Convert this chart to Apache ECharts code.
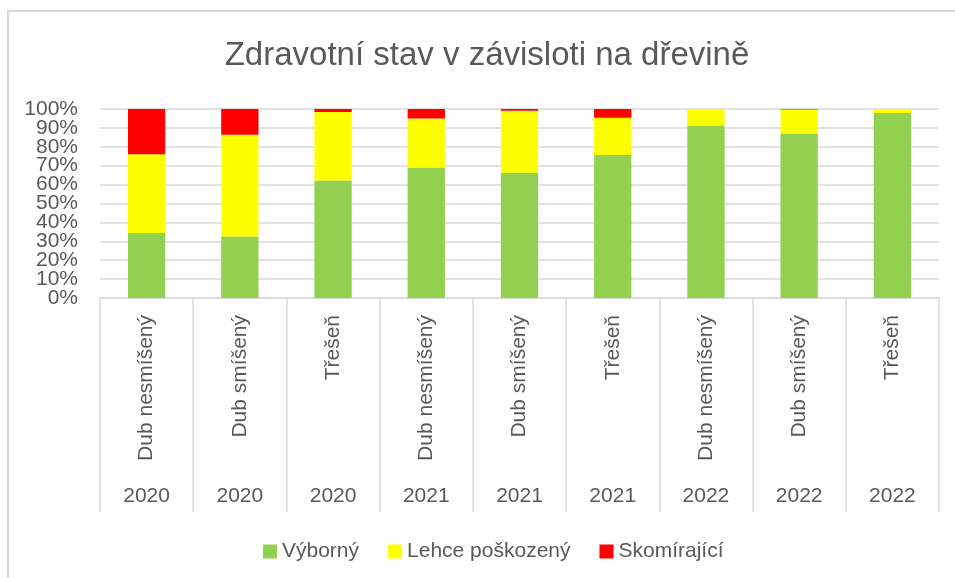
<!DOCTYPE html>
<html>
<head>
<meta charset="utf-8">
<script src="https://cdn.jsdelivr.net/npm/echarts@6/dist/echarts.min.js"></script>
<style>
html,body{margin:0;padding:0;background:#fff;}
#chart{width:955px;height:578px;}
</style>
</head>
<body>
<div id="chart"></div>
<script>
const categories = ['Dub nesmíšený','Dub smíšený','Třešeň','Dub nesmíšený','Dub smíšený','Třešeň','Dub nesmíšený','Dub smíšený','Třešeň'];
const years = ['2020','2020','2020','2021','2021','2021','2022','2022','2022'];
const vyborny = [34.4, 32.6, 62.2, 69.1, 66.3, 75.7, 91.3, 87.1, 97.9];
const lehce   = [41.6, 53.8, 36.2, 25.9, 32.8, 19.7, 8.7, 12.7, 2.1];
const skomirajici = [24.0, 13.6, 1.6, 5.0, 0.9, 4.6, 0, 0.2, 0];
const seriesNames = ['Výborný','Lehce poškozený','Skomírající'];
const yTickLabels = ['0%','10%','20%','30%','40%','50%','60%','70%','80%','90%','100%'];

const FONT = 'Liberation Sans';
const TXT = '#595959';
const GRID = '#d9d9d9';

const chart = echarts.init(document.getElementById('chart'));
chart.setOption({
  animation: false,
  backgroundColor: '#fff',
  textStyle: { fontFamily: FONT },
  title: {
    text: 'Zdravotní stav v závisloti na dřevině',
    left: 482, top: 34, textAlign: 'center',
    textStyle: { fontFamily: FONT, fontSize: 33, fontWeight: 'normal', color: TXT }
  },
  legend: {
    left: 258, top: 536,
    itemWidth: 14, itemHeight: 14, itemGap: 29,
    icon: 'rect',
    textStyle: { fontFamily: FONT, fontSize: 21, color: TXT, padding: [0,0,0,0] },
    data: seriesNames
  },
  grid: { left: 100, right: 16, top: 109, bottom: 280, containLabel: false },
  xAxis: [
    {
      type: 'category', data: categories, position: 'bottom',
      axisLine: { show: true, lineStyle: { color: GRID, width: 1.5 } },
      axisTick: { show: true, interval: 0, length: 214, lineStyle: { color: GRID, width: 1.5 } },
      axisLabel: { interval: 0, rotate: 90, margin: 17, fontFamily: FONT, fontSize: 21, color: TXT }
    },
    {
      type: 'category', data: years, position: 'bottom', offset: 180,
      axisLine: { show: false }, axisTick: { show: false },
      axisLabel: { interval: 0, margin: 8, fontFamily: FONT, fontSize: 21, color: TXT }
    }
  ],
  yAxis: [
    {
      type: 'value', min: 0, max: 100, interval: 10,
      axisLine: { show: false }, axisTick: { show: false },
      splitLine: { lineStyle: { color: GRID, width: 1.5 } },
      axisLabel: { show: false }
    },
    {
      type: 'category', data: yTickLabels, boundaryGap: false, position: 'left',
      axisLine: { show: false }, axisTick: { show: false }, splitLine: { show: false },
      axisLabel: { interval: 0, margin: 22, fontFamily: FONT, fontSize: 21, color: TXT }
    }
  ],
  series: [
    { name: seriesNames[0], type: 'bar', stack: 'a', data: vyborny, barWidth: '40%', yAxisIndex: 0, itemStyle: { color: '#92d050' } },
    { name: seriesNames[1], type: 'bar', stack: 'a', data: lehce, barWidth: '40%', yAxisIndex: 0, itemStyle: { color: '#ffff00' } },
    { name: seriesNames[2], type: 'bar', stack: 'a', data: skomirajici, barWidth: '40%', yAxisIndex: 0, itemStyle: { color: '#ff0000' } }
  ],
  graphic: [
    { type: 'rect', silent: true, z: -1,
      shape: { x: 8, y: 11, width: 960, height: 600 },
      style: { fill: 'none', stroke: GRID, lineWidth: 2 } }
  ]
});
</script>
</body>
</html>
